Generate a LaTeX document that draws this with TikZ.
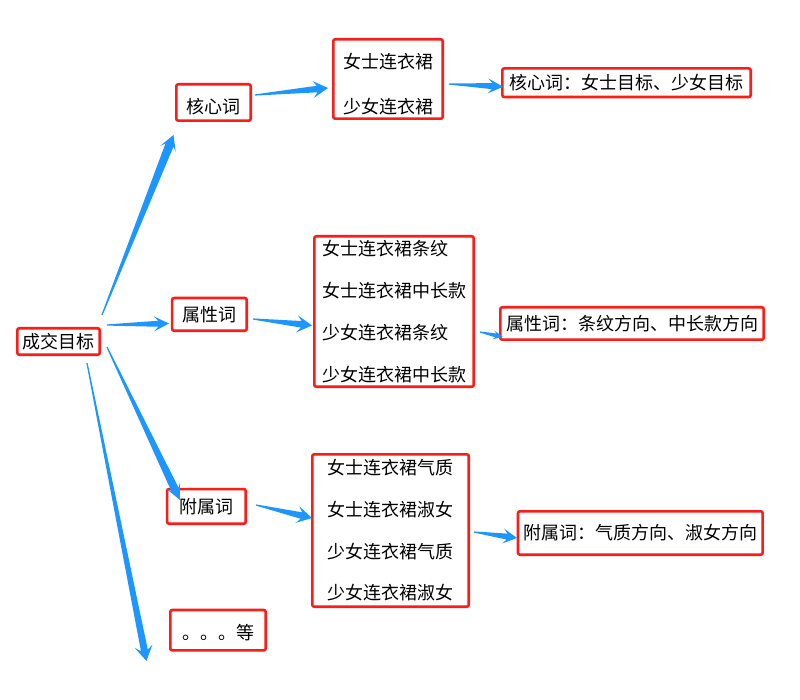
\documentclass[tikz,border=0pt]{standalone}
\usepackage{fontspec}
\setmainfont{Noto Sans CJK SC}
\usetikzlibrary{calc}
\definecolor{boxred}{RGB}{250,30,25}
\definecolor{arrowblue}{RGB}{30,150,255}
% tapered arrow: #1 tail, #2 tip, #3 head length, #4 head half width, #5 shaft half width (numbers, pt)
\newcommand\taperarrow[5]{%
  \pgfmathsetmacro\taN{0.72*#3}%
  \coordinate (taH) at ($(#2)!#3pt!(#1)$);
  \coordinate (taS) at ($(#2)!\taN pt!(#1)$);
  \fill[arrowblue] ($(#1)!0.6pt!90:(#2)$) -- ($(taS)!#5pt!90:(#2)$) -- ($(taH)!#4pt!90:(#2)$) -- (#2)
     -- ($(taH)!#4pt!-90:(#2)$) -- ($(taS)!#5pt!-90:(#2)$) -- ($(#1)!0.6pt!-90:(#2)$) -- cycle;
}
\tikzset{
  box/.style={draw=boxred, line width=2.6pt, rounded corners=2pt, fill=white, inner sep=2pt,
    font=\fontsize{18}{22}\selectfont, align=center, text=black},
}
\begin{document}
\begin{tikzpicture}[x=1pt,y=-1pt]
\useasboundingbox[fill=white] (0,0) rectangle (800,700);

% boxes
\node[box, minimum width=82.4pt, minimum height=26.4pt] (goal) at (58.5,341.5) {成交目标};
\node[box, minimum width=74.4pt, minimum height=36.4pt] (core) at (213.5,102.5) {\rule{0pt}{24pt}核心词};
\node[box, minimum width=109.4pt, minimum height=79.4pt] (corelist) at (388,79) {\rule{0pt}{25pt}女士连衣裙\\[23pt]少女连衣裙};
\node[box, minimum width=248.4pt, minimum height=28.7pt] (coreres) at (626.5,82.7) {核心词：女士目标、少女目标};

\node[box, minimum width=74.7pt, minimum height=32.7pt] (attr) at (209.4,314.4) {属性词};
\node[box, minimum width=159.4pt, minimum height=150.4pt, align=left] (attrlist) at (394,311.5)
  {女士连衣裙条纹\\[19.9pt]女士连衣裙中长款\\[19.9pt]少女连衣裙条纹\\[19.9pt]少女连衣裙中长款};
\node[box, minimum width=263.4pt, minimum height=32.4pt] (attrres) at (632,323.5) {属性词：条纹方向、中长款方向};

\node[box, minimum width=78.7pt, minimum height=34.7pt] (sub) at (206.4,506.4) {附属词};
\node[box, minimum width=156.4pt, minimum height=152.4pt, align=left] (sublist) at (390.5,530.5)
  {女士连衣裙气质\\[19.7pt]女士连衣裙淑女\\[19.7pt]少女连衣裙气质\\[19.7pt]少女连衣裙淑女};
\node[box, minimum width=244.7pt, minimum height=43.4pt] (subres) at (640.3,533) {附属词：气质方向、淑女方向};

\node[box, minimum width=95.4pt, minimum height=40.4pt] (etc) at (218,630.2) {\rule{0pt}{21pt}。。。等};

% arrow end points
\coordinate (a1t) at (102,315);  \coordinate (a1h) at (173.5,135);
\coordinate (a2t) at (107,325);  \coordinate (a2h) at (169,323.5);
\coordinate (a3t) at (107,347);  \coordinate (a3h) at (180,500);
\coordinate (a4t) at (87,363);   \coordinate (a4h) at (146.5,661);
\coordinate (a5t) at (255,95);   \coordinate (a5h) at (328,88);
\coordinate (a6t) at (253,319);  \coordinate (a6h) at (312,325.5);
\coordinate (a7t) at (480,332);  \coordinate (a7h) at (503,337);
\coordinate (a8t) at (256,505);  \coordinate (a8h) at (312,518);
\coordinate (a9t) at (474,532);  \coordinate (a9h) at (517,538);
\coordinate (a10t) at (449,84);  \coordinate (a10h) at (503,86.7);

\taperarrow{a1t}{a1h}{15}{8.3}{4.3}
\taperarrow{a2t}{a2h}{15}{7.5}{3}
\taperarrow{a3t}{a3h}{16}{7.5}{4}
\taperarrow{a4t}{a4h}{15}{9}{3.5}
\taperarrow{a5t}{a5h}{15}{8.5}{3.3}
\taperarrow{a6t}{a6h}{15}{8.5}{3.3}
\taperarrow{a7t}{a7h}{10}{4.5}{2}
\taperarrow{a8t}{a8h}{15}{8.5}{3.3}
\taperarrow{a9t}{a9h}{14}{7.5}{3}
\taperarrow{a10t}{a10h}{15}{7.5}{3}
\end{tikzpicture}
\end{document}
